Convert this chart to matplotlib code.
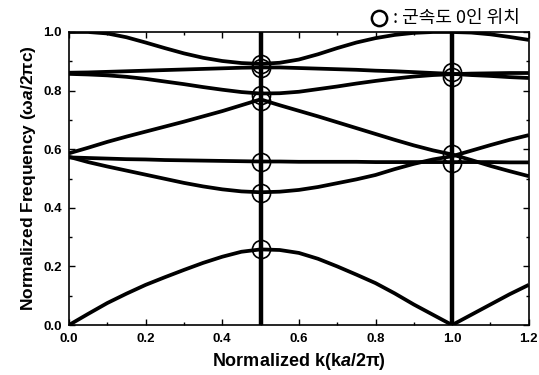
import matplotlib
matplotlib.use('Agg')
import matplotlib.pyplot as plt
from matplotlib.lines import Line2D
import numpy as np

plt.rcParams['font.family'] = ['Liberation Sans', 'DejaVu Sans']
plt.rcParams['mathtext.fontset'] = 'custom'
plt.rcParams['mathtext.rm'] = 'Liberation Sans:bold'
plt.rcParams['mathtext.it'] = 'Liberation Sans:italic:bold'

# k 값 (0.05 간격)
k = np.round(np.arange(0, 1.2001, 0.05), 2)

band1 = [0.0, 0.038, 0.075, 0.107, 0.137, 0.163, 0.188, 0.212, 0.233, 0.250,
         0.258, 0.256, 0.246, 0.226, 0.200, 0.172, 0.143, 0.108, 0.07, 0.035,
         0.0, 0.035, 0.07, 0.105, 0.137]
band2 = [0.574, 0.556, 0.541, 0.527, 0.513, 0.499, 0.485, 0.473, 0.463, 0.456,
         0.453, 0.455, 0.461, 0.471, 0.484, 0.497, 0.512, 0.532, 0.55, 0.565,
         0.576, 0.595, 0.614, 0.632, 0.648]
band_flat = [0.572, 0.570, 0.568, 0.566, 0.565, 0.563, 0.562, 0.561, 0.560, 0.559,
             0.558, 0.558, 0.557, 0.557, 0.557, 0.557, 0.556, 0.556, 0.556, 0.556,
             0.556, 0.556, 0.556, 0.555, 0.555]
band3 = [0.586, 0.605, 0.625, 0.643, 0.66, 0.677, 0.694, 0.712, 0.73, 0.75,
         0.77, 0.75, 0.731, 0.712, 0.692, 0.672, 0.652, 0.632, 0.613, 0.596,
         0.582, 0.563, 0.543, 0.525, 0.508]
band4 = [0.857, 0.855, 0.852, 0.847, 0.84, 0.831, 0.822, 0.812, 0.803, 0.795,
         0.79, 0.791, 0.796, 0.805, 0.814, 0.824, 0.833, 0.841, 0.848, 0.853,
         0.856, 0.858, 0.859, 0.86, 0.86]
band5 = [0.861, 0.862, 0.864, 0.866, 0.868, 0.870, 0.872, 0.874, 0.876, 0.878,
         0.879, 0.879, 0.877, 0.875, 0.873, 0.871, 0.868, 0.866, 0.863, 0.86,
         0.857, 0.853, 0.85, 0.846, 0.843]
band6 = [1.0, 1.0, 0.995, 0.982, 0.964, 0.945, 0.927, 0.912, 0.901, 0.894,
         0.891, 0.895, 0.906, 0.924, 0.945, 0.964, 0.979, 0.99, 0.997, 1.0,
         1.0, 0.998, 0.992, 0.983, 0.973]

# 군속도 0인 위치
zero_k = [0.5] * 7 + [1.0] * 4
zero_f = [0.26, 0.45, 0.555, 0.765, 0.785, 0.877, 0.892,
          0.553, 0.585, 0.848, 0.862]

fig = plt.figure(figsize=(5.39, 3.75), dpi=100)
ax = fig.add_axes([0.128, 0.1333, 0.853, 0.7814])

for band in [band1, band2, band_flat, band3, band4, band5, band6]:
    ax.plot(k, band, color='black', linewidth=2.7, solid_capstyle='butt',
            solid_joinstyle='round')

# 브릴루앙 영역 경계
for kb in [0.5, 1.0]:
    ax.axvline(kb, color='black', linewidth=3.2)

ax.plot(zero_k, zero_f, linestyle='none', marker='o', markersize=13,
        markerfacecolor='none', markeredgecolor='black', markeredgewidth=1.2)

ax.set_xlim(0, 1.2)
ax.set_ylim(0, 1.0)
ax.set_xticks(np.arange(0, 1.21, 0.2))
ax.set_yticks(np.arange(0, 1.01, 0.2))
ax.set_xticks(np.arange(0, 1.21, 0.1), minor=True)
ax.set_yticks(np.arange(0, 1.01, 0.1), minor=True)
ax.set_xticklabels([f'{v:.1f}' for v in np.arange(0, 1.21, 0.2)])
ax.set_yticklabels([f'{v:.1f}' for v in np.arange(0, 1.01, 0.2)])
ax.tick_params(which='both', direction='in', top=True, right=True,
               labelsize=9.5, width=1)
ax.tick_params(which='major', length=4)
ax.tick_params(axis='x', which='major', pad=6)
ax.tick_params(axis='y', which='major', pad=5)
ax.tick_params(which='minor', length=2.5)
for lab in ax.get_xticklabels() + ax.get_yticklabels():
    lab.set_fontweight('bold')
for sp in ax.spines.values():
    sp.set_linewidth(1.2)

ax.set_xlabel(r'Normalized k(k$\mathit{a}$/2π)', fontsize=13,
              fontweight='bold', labelpad=4)
ax.set_ylabel(r'Normalized Frequency (ω$\mathit{a}$/2πc)', fontsize=12.5,
              fontweight='bold', labelpad=4)

# 범례
fig.add_artist(Line2D([0.703], [0.953], transform=fig.transFigure,
                      marker='o', markersize=11, markerfacecolor='none',
                      markeredgecolor='black', markeredgewidth=1.8))
fig.text(0.7217, 0.953, ' : 군속도 0인 위치', fontsize=13, ha='left',
         va='center', family=['Noto Sans CJK KR', 'DejaVu Sans'])

fig.savefig('out.png', dpi=100)
